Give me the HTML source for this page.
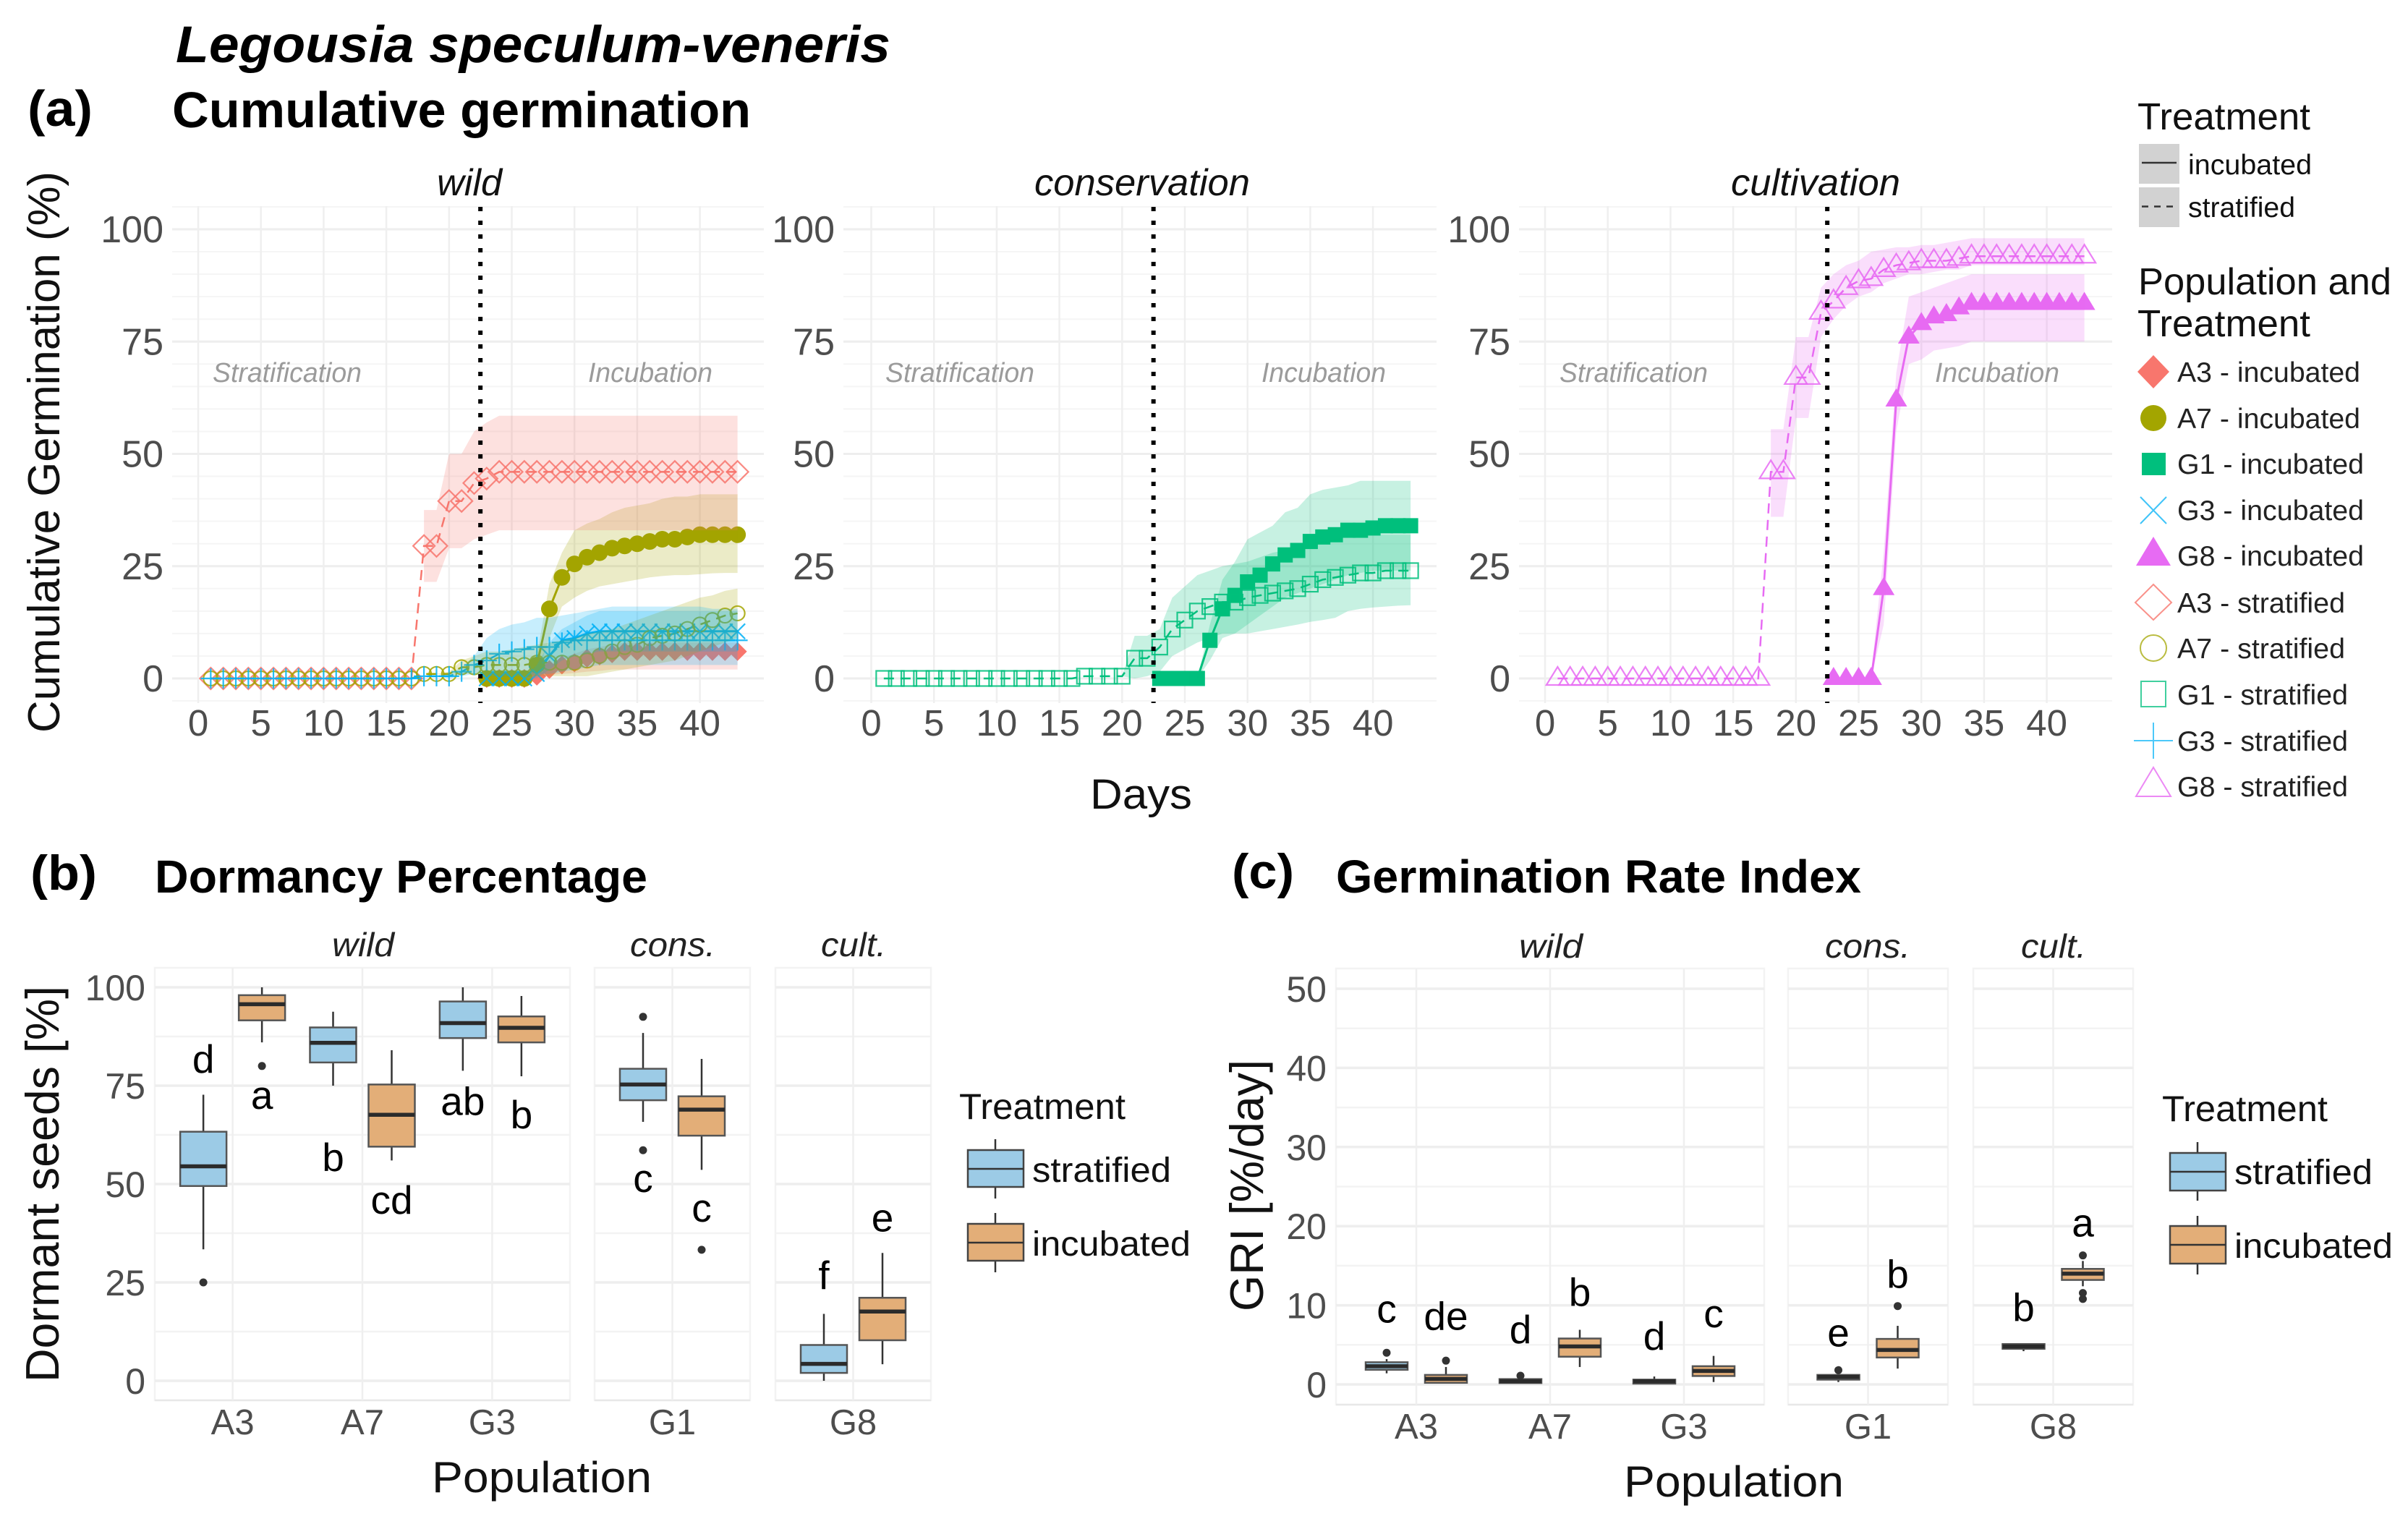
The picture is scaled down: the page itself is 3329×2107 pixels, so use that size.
<!DOCTYPE html>
<html lang="en">
<head>
<meta charset="utf-8">
<title>Legousia speculum-veneris germination</title>
<style>
html,body{margin:0;padding:0;background:#fff;}
svg{display:block;}
text{font-family:"Liberation Sans",Arial,sans-serif;}
</style>
</head>
<body>
<svg id="fig" xmlns="http://www.w3.org/2000/svg" width="3329" height="2107" viewBox="0 0 3329 2107">
<rect x="0" y="0" width="3329" height="2107" fill="#fff"/>

<g id="grids"></g>
<g id="plots"></g>

<!-- Titles -->
<text x="243" y="86" font-size="71" font-weight="bold" font-style="italic" textLength="988" lengthAdjust="spacingAndGlyphs">Legousia speculum-veneris</text>
<text x="38" y="174" font-size="70" font-weight="bold" textLength="90" lengthAdjust="spacingAndGlyphs">(a)</text>
<text x="238" y="176" font-size="70" font-weight="bold" textLength="800" lengthAdjust="spacingAndGlyphs">Cumulative germination</text>
<text x="42" y="1230" font-size="68" font-weight="bold" textLength="92" lengthAdjust="spacingAndGlyphs">(b)</text>
<text x="214" y="1234" font-size="64" font-weight="bold" textLength="681" lengthAdjust="spacingAndGlyphs">Dormancy Percentage</text>
<text x="1703" y="1228" font-size="68" font-weight="bold" textLength="86" lengthAdjust="spacingAndGlyphs">(c)</text>
<text x="1847" y="1234" font-size="64" font-weight="bold" textLength="726" lengthAdjust="spacingAndGlyphs">Germination Rate Index</text>

<!-- Panel a text -->
<text transform="translate(82,1013) rotate(-90)" font-size="62" fill="#111" textLength="776" lengthAdjust="spacingAndGlyphs">Cumulative Germination (%)</text>
<text x="1507" y="1118" font-size="58" fill="#111" textLength="141" lengthAdjust="spacingAndGlyphs">Days</text>
<text x="604" y="270" font-size="52" font-style="italic" fill="#111" textLength="90" lengthAdjust="spacingAndGlyphs">wild</text>
<text x="1430" y="270" font-size="52" font-style="italic" fill="#111" textLength="298" lengthAdjust="spacingAndGlyphs">conservation</text>
<text x="2393" y="270" font-size="52" font-style="italic" fill="#111" textLength="234" lengthAdjust="spacingAndGlyphs">cultivation</text>
<g font-size="38" font-style="italic" fill="#9b9b9b">
<text x="294" y="528" textLength="206" lengthAdjust="spacingAndGlyphs">Stratification</text>
<text x="813" y="528" textLength="172" lengthAdjust="spacingAndGlyphs">Incubation</text>
<text x="1224" y="528" textLength="206" lengthAdjust="spacingAndGlyphs">Stratification</text>
<text x="1744" y="528" textLength="172" lengthAdjust="spacingAndGlyphs">Incubation</text>
<text x="2156" y="528" textLength="205" lengthAdjust="spacingAndGlyphs">Stratification</text>
<text x="2675" y="528" textLength="172" lengthAdjust="spacingAndGlyphs">Incubation</text>
</g>

<!-- Panel a legends -->
<g>
<text x="2955" y="179" font-size="52" fill="#111" textLength="239" lengthAdjust="spacingAndGlyphs">Treatment</text>
<rect x="2957" y="199" width="56" height="55" fill="#d2d2d2"/>
<rect x="2957" y="259" width="56" height="55" fill="#d2d2d2"/>
<line x1="2961" y1="225" x2="3009" y2="225" stroke="#333" stroke-width="2.5"/>
<line x1="2961" y1="285.5" x2="3009" y2="285.5" stroke="#333" stroke-width="2.5" stroke-dasharray="9 8"/>
<text x="3025" y="241" font-size="39" fill="#111" textLength="171" lengthAdjust="spacingAndGlyphs">incubated</text>
<text x="3025" y="300" font-size="39" fill="#111" textLength="148" lengthAdjust="spacingAndGlyphs">stratified</text>
</g>
<g>
<text x="2956" y="407" font-size="52" fill="#111" textLength="350" lengthAdjust="spacingAndGlyphs">Population and</text>
<text x="2955" y="465" font-size="52" fill="#111" textLength="239" lengthAdjust="spacingAndGlyphs">Treatment</text>

<polygon points="2977,491 2999,514 2977,537 2955,514" fill="#F8766D"/>
<text x="3010" y="528" font-size="39" fill="#222" textLength="253" lengthAdjust="spacingAndGlyphs">A3 - incubated</text>
<ellipse cx="2977" cy="578" rx="18" ry="18" fill="#A3A500"/>
<text x="3010" y="592" font-size="39" fill="#222" textLength="253" lengthAdjust="spacingAndGlyphs">A7 - incubated</text>
<rect x="2961" y="626" width="33" height="31" fill="#00BF7D"/>
<text x="3010" y="655" font-size="39" fill="#222" textLength="258" lengthAdjust="spacingAndGlyphs">G1 - incubated</text>
<path d="M2959,687 L2995,724 M2995,687 L2959,724" stroke="#00B0F6" stroke-width="2" fill="none" opacity=".75"/>
<text x="3010" y="719" font-size="39" fill="#222" textLength="258" lengthAdjust="spacingAndGlyphs">G3 - incubated</text>
<polygon points="2977,742 3001,782 2953,782" fill="#E76BF3"/>
<text x="3010" y="782" font-size="39" fill="#222" textLength="258" lengthAdjust="spacingAndGlyphs">G8 - incubated</text>

<polygon points="2977,808 3002,833 2977,857 2952,833" fill="none" stroke="#F8766D" stroke-width="2" opacity=".8"/>
<text x="3010" y="847" font-size="39" fill="#222" textLength="232" lengthAdjust="spacingAndGlyphs">A3 - stratified</text>
<ellipse cx="2977" cy="896" rx="18" ry="18" fill="none" stroke="#A3A500" stroke-width="2" opacity=".75"/>
<text x="3010" y="910" font-size="39" fill="#222" textLength="232" lengthAdjust="spacingAndGlyphs">A7 - stratified</text>
<rect x="2960" y="942" width="34" height="35" fill="none" stroke="#00BF7D" stroke-width="2" opacity=".75"/>
<text x="3010" y="974" font-size="39" fill="#222" textLength="236" lengthAdjust="spacingAndGlyphs">G1 - stratified</text>
<path d="M2950,1024 L3004,1024 M2977,999 L2977,1049" stroke="#00B0F6" stroke-width="2" fill="none" opacity=".7"/>
<text x="3010" y="1038" font-size="39" fill="#222" textLength="236" lengthAdjust="spacingAndGlyphs">G3 - stratified</text>
<polygon points="2977,1061 3001,1101 2953,1101" fill="none" stroke="#E76BF3" stroke-width="2" opacity=".8"/>
<text x="3010" y="1101" font-size="39" fill="#222" textLength="236" lengthAdjust="spacingAndGlyphs">G8 - stratified</text>
</g>

<!-- Panel b static text -->
<text transform="translate(81,1911) rotate(-90)" font-size="65" fill="#111" textLength="548" lengthAdjust="spacingAndGlyphs">Dormant seeds [%]</text>
<text x="597" y="2063" font-size="60" fill="#111" textLength="304" lengthAdjust="spacingAndGlyphs">Population</text>
<text x="459" y="1322" font-size="46" font-style="italic" fill="#222" textLength="86" lengthAdjust="spacingAndGlyphs">wild</text>
<text x="871" y="1322" font-size="46" font-style="italic" fill="#222" textLength="118" lengthAdjust="spacingAndGlyphs">cons.</text>
<text x="1135" y="1322" font-size="46" font-style="italic" fill="#222" textLength="90" lengthAdjust="spacingAndGlyphs">cult.</text>
<g>
<text x="1326" y="1547" font-size="50" fill="#111" textLength="230" lengthAdjust="spacingAndGlyphs">Treatment</text>
<line x1="1376" y1="1575" x2="1376" y2="1657" stroke="#333" stroke-width="2.5"/>
<rect x="1338" y="1590" width="77" height="51" fill="#9CCBE6" stroke="#444" stroke-width="2.5"/>
<line x1="1338" y1="1616" x2="1415" y2="1616" stroke="#333" stroke-width="2.5"/>
<line x1="1376" y1="1677" x2="1376" y2="1759" stroke="#333" stroke-width="2.5"/>
<rect x="1338" y="1692" width="77" height="51" fill="#E3AE78" stroke="#444" stroke-width="2.5"/>
<line x1="1338" y1="1718" x2="1415" y2="1718" stroke="#333" stroke-width="2.5"/>
<text x="1427" y="1634" font-size="48" fill="#111" textLength="192" lengthAdjust="spacingAndGlyphs">stratified</text>
<text x="1427" y="1736" font-size="48" fill="#111" textLength="219" lengthAdjust="spacingAndGlyphs">incubated</text>
</g>

<!-- Panel c static text -->
<text transform="translate(1746,1813) rotate(-90)" font-size="65" fill="#111" textLength="348" lengthAdjust="spacingAndGlyphs">GRI [%/day]</text>
<text x="2245" y="2069" font-size="60" fill="#111" textLength="304" lengthAdjust="spacingAndGlyphs">Population</text>
<text x="2100" y="1324" font-size="46" font-style="italic" fill="#222" textLength="88" lengthAdjust="spacingAndGlyphs">wild</text>
<text x="2523" y="1324" font-size="46" font-style="italic" fill="#222" textLength="118" lengthAdjust="spacingAndGlyphs">cons.</text>
<text x="2794" y="1324" font-size="46" font-style="italic" fill="#222" textLength="90" lengthAdjust="spacingAndGlyphs">cult.</text>
<g>
<text x="2989" y="1550" font-size="50" fill="#111" textLength="229" lengthAdjust="spacingAndGlyphs">Treatment</text>
<line x1="3038" y1="1579" x2="3038" y2="1660" stroke="#333" stroke-width="2.5"/>
<rect x="3000" y="1594" width="77" height="52" fill="#9CCBE6" stroke="#444" stroke-width="2.5"/>
<line x1="3000" y1="1620" x2="3077" y2="1620" stroke="#333" stroke-width="2.5"/>
<line x1="3038" y1="1681" x2="3038" y2="1762" stroke="#333" stroke-width="2.5"/>
<rect x="3000" y="1695" width="77" height="52" fill="#E3AE78" stroke="#444" stroke-width="2.5"/>
<line x1="3000" y1="1721" x2="3077" y2="1721" stroke="#333" stroke-width="2.5"/>
<text x="3089" y="1637" font-size="48" fill="#111" textLength="191" lengthAdjust="spacingAndGlyphs">stratified</text>
<text x="3089" y="1739" font-size="48" fill="#111" textLength="219" lengthAdjust="spacingAndGlyphs">incubated</text>
</g>
</svg>

<script>
// ---------- Panel (a) data: cumulative germination ----------
const daysAll = [1,2,3,4,5,6,7,8,9,10,11,12,13,14,15,16,17,18,19,20,21,22,23,24,25,26,27,28,29,30,31,32,33,34,35,36,37,38,39,40,41,42,43];
const daysIncubation = [23,24,25,26,27,28,29,30,31,32,33,34,35,36,37,38,39,40,41,42,43];
const daysBandStratified = [18,19,20,21,22,23,24,25,26,27,28,29,30,31,32,33,34,35,36,37,38,39,40,41,42,43];
const daysBandIncubated = [26,27,28,29,30,31,32,33,34,35,36,37,38,39,40,41,42,43];
const dayTicks = [0,5,10,15,20,25,30,35,40];
const percentTicks = [0,25,50,75,100];
const percentMinorGrid = [-5,5,10,15,20,30,35,40,45,55,60,65,70,80,85,90,95,105];

const a3StratMean = [0,0,0,0,0,0,0,0,0,0,0,0,0,0,0,0,0,29.5,29.5,39.5,39.5,43.5,44.5,46,46,46,46,46,46,46,46,46,46,46,46,46,46,46,46,46,46,46,46];
const a3StratUpper = [37.5,37.5,50,50,55,57,58.5,58.5,58.5,58.5,58.5,58.5,58.5,58.5,58.5,58.5,58.5,58.5,58.5,58.5,58.5,58.5,58.5,58.5,58.5,58.5];
const a3StratLower = [21.5,21.5,29,29,31,32,33,33,33,33,33,33,33,33,33,33,33,33,33,33,33,33,33,33,33,33];

const a7StratMean = [0,0,0,0,0,0,0,0,0,0,0,0,0,0,0,0,0,1,1,1,2.5,2.5,3,3,3,3,3.5,3.5,3.5,3.5,4,5,6,7,7.5,9,9.5,10,11,12,13,14,14.5];
const a7StratUpper = [1,1,1.5,4,5,6,6,6.5,7,7.5,8,8.5,9,10,10.5,11,12,13,14,15,16,17,18,18.5,19.5,20];
const a7StratLower = [1,1,0.5,1,1,1,0.5,0.5,0.5,0.5,0.5,0.5,0.5,0.5,1,1.5,2,2.5,3,3.5,4,5,6,7,8,9];

const g3StratMean = [0,0,0,0,0,0,0,0,0,0,0,0,0,0,0,0,0,0.5,0.5,0.5,1.5,3,4,5.5,6,6.5,7,7,8,8.5,8.5,8.5,8.5,8.5,8.5,8.5,8.5,8.5,8.5,8.5,8.5,8.5,8.5];
const g3StratUpper = [0.5,0.5,1,2.5,5,9,11,12,12.5,13.5,13.5,14,14.5,15,15.5,16,16,16,16,16,16,16,16,15.5,15.5,15.5];
const g3StratLower = [0.5,0.5,0,0.5,1,0.5,0.5,0.5,0.5,1,1,1.5,2,2.5,3,3,3,3,3,3,3,3,3,3,3,3];

const a3IncMean = [0,0,0,0,0.5,2,3,3.5,4.5,5,5.5,6,6,6,6,6,6,6,6,6,6];
const a3IncUpper = [0,1,3,4.5,5.5,6.5,7,7.5,8,8,8,8,8,8,8,8,8,8];
const a3IncLower = [0,0,0.8,1,1.2,1.5,1.7,2,2,2,2,2,2,2,2,2,2,2];

const a7IncMean = [0,0,0,0,3,15.5,22.5,25.5,27,28,29,29.5,30,30.5,31,31,31.5,32,32,32,32];
const a7IncUpper = [0,5,21,28,33,34.5,35.5,37,38,38.5,39,40,40.5,40.5,41,41,41,41];
const a7IncLower = [0,0.5,9,16,18,19.5,20.5,21,21.5,22,22.5,22.8,23,23,23.2,23.4,23.5,23.5];

const g3IncMean = [0,0,0,0,1,5,8.5,9,10,10.5,10.5,10.5,10.5,10.5,10.5,10.5,10.5,10.5,10.5,10.5,10.5];
const g3IncUpper = [0,3,8,11,12.5,14,15,15,15,15,15,15,15,15,15,15,15,15];
const g3IncLower = [0,0,2,4,5,5.5,6,6,6,6,6,6,6,6,6,6,6,6];

const g1StratMean = [0,0,0,0,0,0,0,0,0,0,0,0,0,0,0,0,0.5,0.5,0.5,0.5,4.5,4.5,7,11,13,15,16,17,17,18,18.5,19,19.5,20,21,22,22.5,23,23.5,23.5,24,24,24];
const g1StratUpper = [0.5,0.5,0.5,9.5,9.5,11,18,20.5,23,24,25,25.5,26,27,28,28.5,29,30,30.5,31,31.5,32,32,32,32,32];
const g1StratLower = [0.5,0.5,0.5,0,0.5,1.5,5,6.5,8,9,10,10,10,10.5,11,11.5,12,12.6,13,13.5,15,15.5,15.8,16,16.2,16.3];

const g1IncMean = [0,0,0,0,8.5,15.5,18.5,21.5,23,25.5,27.5,28.5,30.5,31.5,32,33,33,33.5,34,34,34];
const g1IncUpper = [0,12,22,26,31,32.5,34,37,38,41,42,42.5,43,44,44,44,44,44];
const g1IncLower = [0,4,9,10,12,14,16,18,19,20,21,22,23,23.5,24,24,24,24];

const g8StratMean = [0,0,0,0,0,0,0,0,0,0,0,0,0,0,0,0,0,46,46,67,67,81.5,84,87,88.5,89,91,92,92.5,93,93,93,93.5,94,94,94,94,94,94,94,94,94,94];
const g8StratUpper = [55.5,55.5,76,76,87,90,92,93,95,95.5,96,96,96.5,96.5,97,97.5,98,98,98,98,98,98,98,98,98,98];
const g8StratLower = [36,36,58,58,76,80,83,85,86,88,89,90,90,90.5,91,91,92,92,92,92,92,92,92,92,92,92];

const g8IncMean = [0,0,0,0,20,62,76,79,80.5,81,82.5,83.5,83.5,83.5,83.5,83.5,83.5,83.5,83.5,83.5,83.5];
const g8IncUpper = [1,28,68,85,86,87,88,89,90,90,90,90,90,90,90,90,90,90];
const g8IncLower = [0,12,55,70,71,73,73.5,74,75,75,75,75,75,75,75,75,75,75];

// ---------- Panel (b) data: dormancy percentage, order A3 A7 G3 G1 G8 ----------
const populations = ['A3','A7','G3','G1','G8'];
const dormancyTicks = [0,25,50,75,100];
const dormancyMinorGrid = [12.5,37.5,62.5,87.5];

const dormStratLow = [33.4,75,78.8,65.8,0];
const dormStratQ1 = [49.5,80.9,87.1,71.3,2];
const dormStratMedian = [54.5,85.9,90.9,75.3,4.3];
const dormStratQ3 = [63.3,89.8,96.4,79.3,9.1];
const dormStratHigh = [72.7,93.8,100,88.4,17];
const dormStratOutliers = [[25],[],[],[92.5,58.6],[]];
const dormStratLetters = ['d','b','ab','c','f'];
const dormStratLetterLevel = [78.3,53.3,67.6,48,23.3];

const dormIncLow = [86,56,77.4,53.6,4.2];
const dormIncQ1 = [91.6,59.5,86,62.3,10.3];
const dormIncMedian = [95.7,67.6,89.7,68.9,17.6];
const dormIncQ3 = [98,75.3,92.6,72.3,21.1];
const dormIncHigh = [100,84,97.8,81.8,32.5];
const dormIncOutliers = [[80],[],[],[33.3],[]];
const dormIncLetters = ['a','cd','b','c','e'];
const dormIncLetterLevel = [69.1,42.5,64.2,40.4,38];

// ---------- Panel (c) data: germination rate index, order A3 A7 G3 G1 G8 ----------
const griTicks = [0,10,20,30,40,50];
const griMinorGrid = [5,15,25,35,45];

const griStratLow = [1.4,0.1,0.05,0.3,4.2];
const griStratQ1 = [1.85,0.17,0.1,0.6,4.5];
const griStratMedian = [2.3,0.4,0.4,0.95,4.8];
const griStratQ3 = [2.8,0.67,0.6,1.2,5.1];
const griStratHigh = [3.2,1,1,1.5,5.2];
const griStratOutliers = [[4],[1.1],[],[1.8],[]];
const griStratLetters = ['c','d','d','e','b'];
const griStratLetterLevel = [7.8,5.2,4.4,4.8,8];

const griIncLow = [0.1,2.2,0.3,2,12.4];
const griIncQ1 = [0.2,3.5,1.06,3.4,13.2];
const griIncMedian = [0.7,4.8,1.7,4.35,14];
const griIncQ3 = [1.2,5.8,2.3,5.75,14.6];
const griIncHigh = [2.2,6.9,3.6,7.4,15.6];
const griIncOutliers = [[3],[],[],[9.9],[16.3,11.55,10.8]];
const griIncLetters = ['de','b','c','b','a'];
const griIncLetterLevel = [6.9,9.9,7.2,12.2,18.7];

// ---------- Helpers ----------
const NS = 'http://www.w3.org/2000/svg';
const gridLayer = document.getElementById('grids');
const plotLayer = document.getElementById('plots');
function mk(tag, attrs, parent) {
  const e = document.createElementNS(NS, tag);
  for (const k in attrs) e.setAttribute(k, attrs[k]);
  parent.appendChild(e);
  return e;
}

// ---------- Axis functions ----------
function yCum(v) { return 938 - v * 6.21; }
function xDay(origin, d) { return origin + d * 17.34; }
function yDorm(v) { return 1909 - v * 5.44; }
function yGri(v) { return 1914 - v * 10.94; }
function xCat(facet, i) {
  const step = (facet.right - facet.left) / (facet.cats.length - 1 + 1.2);
  return facet.left + (0.6 + i) * step;
}

// ---------- Marker drawing ----------
function drawMarker(parent, shape, x, y) {
  let m;
  if (shape === 'diamondSolid') {
    m = mk('polygon', {points: `${x},${y-13} ${x+13},${y} ${x},${y+13} ${x-13},${y}`}, parent);
  } else if (shape === 'diamondOpen') {
    m = mk('polygon', {points: `${x},${y-15} ${x+15},${y} ${x},${y+15} ${x-15},${y}`, fill: 'none', 'stroke-width': 2.2}, parent);
  } else if (shape === 'circleSolid') {
    m = mk('circle', {cx: x, cy: y, r: 11.5}, parent);
  } else if (shape === 'circleOpen') {
    m = mk('circle', {cx: x, cy: y, r: 10, fill: 'none', 'stroke-width': 2.2}, parent);
  } else if (shape === 'squareSolid') {
    m = mk('rect', {x: x-10.5, y: y-10.5, width: 21, height: 21}, parent);
  } else if (shape === 'squareOpen') {
    m = mk('rect', {x: x-10.5, y: y-10.5, width: 21, height: 21, fill: 'none', 'stroke-width': 2.2}, parent);
  } else if (shape === 'cross') {
    m = mk('path', {d: `M${x-10.5},${y-10.5}L${x+10.5},${y+10.5}M${x+10.5},${y-10.5}L${x-10.5},${y+10.5}`, fill: 'none', 'stroke-width': 2.2}, parent);
  } else if (shape === 'plus') {
    m = mk('path', {d: `M${x-14},${y}L${x+14},${y}M${x},${y-14}L${x},${y+14}`, fill: 'none', 'stroke-width': 2.2}, parent);
  } else if (shape === 'triangleSolid') {
    m = mk('polygon', {points: `${x},${y-16} ${x+15},${y+9} ${x-15},${y+9}`}, parent);
  } else {
    m = mk('polygon', {points: `${x},${y-16} ${x+15.5},${y+9} ${x-15.5},${y+9}`, fill: 'none', 'stroke-width': 2.2}, parent);
  }
  
  
  return m;
}

// ---------- Panel (a) drawing ----------
function drawCumulativeFacet(name, origin, left, right, series) {
  // grid
  percentMinorGrid.forEach(function (v) {
    const l = mk('line', {x1: left, x2: right, y1: yCum(v), y2: yCum(v), stroke: '#f5f5f5', 'stroke-width': 2}, gridLayer);
    
    
  });
  percentTicks.forEach(function (v) {
    const l = mk('line', {x1: left, x2: right, y1: yCum(v), y2: yCum(v), stroke: '#eeeeee', 'stroke-width': 3}, gridLayer);
    
    
    const t = mk('text', {x: left - 12, y: yCum(v) + 18, 'text-anchor': 'end', 'font-size': 52, fill: '#4d4d4d'}, plotLayer);
    t.textContent = String(v);
    
    
  });
  dayTicks.forEach(function (d) {
    const l = mk('line', {x1: xDay(origin, d), x2: xDay(origin, d), y1: 285, y2: 972, stroke: '#efefef', 'stroke-width': 2.5}, gridLayer);
    
    
    const t = mk('text', {x: xDay(origin, d), y: 1017, 'text-anchor': 'middle', 'font-size': 51, fill: '#4d4d4d'}, plotLayer);
    t.textContent = String(d);
    
    
  });

  const g = mk('g', {}, plotLayer);
  
  

  // lines and markers sit under the translucent ribbons, as in the reference
  series.forEach(function (s) {
    const pts = s.days.map(function (d, i) { return xDay(origin, d) + ',' + yCum(s.mean[i]); }).join(' ');
    const attrs = {points: pts, fill: 'none', stroke: s.color, 'stroke-width': s.dashed ? 2.5 : 3};
    if (s.dashed) attrs['stroke-dasharray'] = '14 9';
    const line = mk('polyline', attrs, g);
    
    
  });
  series.forEach(function (s) {
    const mg = mk('g', s.solid ? {fill: s.color} : {stroke: s.color, 'stroke-opacity': 0.85}, g);
    
    
    s.days.forEach(function (d, i) {
      drawMarker(mg, s.shape, xDay(origin, d), yCum(s.mean[i]));
    });
  });
  // ribbons
  series.forEach(function (s) {
    const upper = s.bandDays.map(function (d, i) { return xDay(origin, d) + ',' + yCum(s.upper[i]); });
    const lower = s.bandDays.map(function (d, i) { return xDay(origin, d) + ',' + yCum(s.lower[i]); }).reverse();
    const r = mk('polygon', {points: upper.concat(lower).join(' '), fill: s.color, opacity: 0.22}, g);
    
    
  });
  // dotted phase divider
  const divider = mk('line', {x1: xDay(origin, 22.5), x2: xDay(origin, 22.5), y1: 286, y2: 972, stroke: '#000', 'stroke-width': 6, 'stroke-dasharray': '6 13'}, g);
  
  
}

drawCumulativeFacet('wild', 274, 238, 1056, [
  {id:'a3-incubated', color:'#F8766D', shape:'diamondSolid', solid:true, dashed:false, days:daysIncubation, mean:a3IncMean, bandDays:daysBandIncubated, upper:a3IncUpper, lower:a3IncLower},
  {id:'a7-incubated', color:'#A3A500', shape:'circleSolid', solid:true, dashed:false, days:daysIncubation, mean:a7IncMean, bandDays:daysBandIncubated, upper:a7IncUpper, lower:a7IncLower},
  {id:'g3-incubated', color:'#00B0F6', shape:'cross', solid:false, dashed:false, days:daysIncubation, mean:g3IncMean, bandDays:daysBandIncubated, upper:g3IncUpper, lower:g3IncLower},
  {id:'a3-stratified', color:'#F8766D', shape:'diamondOpen', solid:false, dashed:true, days:daysAll, mean:a3StratMean, bandDays:daysBandStratified, upper:a3StratUpper, lower:a3StratLower},
  {id:'a7-stratified', color:'#A3A500', shape:'circleOpen', solid:false, dashed:true, days:daysAll, mean:a7StratMean, bandDays:daysBandStratified, upper:a7StratUpper, lower:a7StratLower},
  {id:'g3-stratified', color:'#00B0F6', shape:'plus', solid:false, dashed:true, days:daysAll, mean:g3StratMean, bandDays:daysBandStratified, upper:g3StratUpper, lower:g3StratLower}
]);
drawCumulativeFacet('conservation', 1204.5, 1166, 1986, [
  {id:'g1-incubated', color:'#00BF7D', shape:'squareSolid', solid:true, dashed:false, days:daysIncubation, mean:g1IncMean, bandDays:daysBandIncubated, upper:g1IncUpper, lower:g1IncLower},
  {id:'g1-stratified', color:'#00BF7D', shape:'squareOpen', solid:false, dashed:true, days:daysAll, mean:g1StratMean, bandDays:daysBandStratified, upper:g1StratUpper, lower:g1StratLower}
]);
drawCumulativeFacet('cultivation', 2136, 2100, 2920, [
  {id:'g8-incubated', color:'#E76BF3', shape:'triangleSolid', solid:true, dashed:false, days:daysIncubation, mean:g8IncMean, bandDays:daysBandIncubated, upper:g8IncUpper, lower:g8IncLower},
  {id:'g8-stratified', color:'#E76BF3', shape:'triangleOpen', solid:false, dashed:true, days:daysAll, mean:g8StratMean, bandDays:daysBandStratified, upper:g8StratUpper, lower:g8StratLower}
]);

// ---------- Boxplot drawing ----------
function drawBoxPanel(cfg) {
  const g = mk('g', {}, plotLayer);
  
  

  cfg.facets.forEach(function (f) {
    const frame = mk('rect', {x: f.left, y: cfg.top, width: f.right - f.left, height: cfg.bottom - cfg.top, fill: 'none', stroke: '#f3f3f3', 'stroke-width': 2.5}, gridLayer);
    
    
    const base = mk('line', {x1: f.left, x2: f.right, y1: cfg.bottom, y2: cfg.bottom, stroke: '#e8e8e8', 'stroke-width': 2.5}, gridLayer);
    
    
    cfg.minor.forEach(function (v) {
      const l = mk('line', {x1: f.left, x2: f.right, y1: cfg.y(v), y2: cfg.y(v), stroke: '#f3f3f3', 'stroke-width': 2.5}, gridLayer);
      
      
    });
    cfg.ticks.forEach(function (v) {
      const l = mk('line', {x1: f.left, x2: f.right, y1: cfg.y(v), y2: cfg.y(v), stroke: '#eeeeee', 'stroke-width': 3.5}, gridLayer);
      
      
    });
    f.cats.forEach(function (c, i) {
      const x = xCat(f, i);
      const l = mk('line', {x1: x, x2: x, y1: cfg.top, y2: cfg.bottom, stroke: '#efefef', 'stroke-width': 2.5}, gridLayer);
      
      
      const t = mk('text', {x: x, y: cfg.xTickY, 'text-anchor': 'middle', 'font-size': 49, fill: '#4d4d4d'}, plotLayer);
      t.textContent = c;
      
      

      const idx = populations.indexOf(c);
      [cfg.stratified, cfg.incubated].forEach(function (s, si) {
        const cx = x + (si === 0 ? -cfg.dodge : cfg.dodge);
        const half = cfg.boxWidth / 2;
        const w = mk('line', {x1: cx, x2: cx, y1: cfg.y(s.high[idx]), y2: cfg.y(s.low[idx]), stroke: '#333', 'stroke-width': 2.5}, g);
        
        
        const b = mk('rect', {x: cx - half, y: cfg.y(s.q3[idx]), width: cfg.boxWidth, height: cfg.y(s.q1[idx]) - cfg.y(s.q3[idx]), fill: s.fill, stroke: '#555', 'stroke-width': 2.5}, g);
        
        
        const m = mk('line', {x1: cx - half, x2: cx + half, y1: cfg.y(s.median[idx]), y2: cfg.y(s.median[idx]), stroke: '#2b2b2b', 'stroke-width': 5.5}, g);
        
        
        s.outliers[idx].forEach(function (o) {
          const p = mk('circle', {cx: cx, cy: cfg.y(o), r: 5.5, fill: '#333'}, g);
          
          
        });
        const lab = mk('text', {x: cx, y: cfg.y(s.letterLevel[idx]), 'text-anchor': 'middle', 'font-size': 55, fill: '#000'}, g);
        lab.textContent = s.letters[idx];
        
        
      });
    });
  });
  cfg.ticks.forEach(function (v) {
    const t = mk('text', {x: cfg.yTickX, y: cfg.y(v) + 18, 'text-anchor': 'end', 'font-size': 50, fill: '#4d4d4d'}, plotLayer);
    t.textContent = String(v);
    
    
  });
}

const BLUE = '#9CCBE6';
const ORANGE = '#E3AE78';
drawBoxPanel({
  id: 'dormancy', y: yDorm, ticks: dormancyTicks, minor: dormancyMinorGrid,
  top: 1338, bottom: 1936, xTickY: 1983, yTickX: 201, boxWidth: 64, dodge: 40.5,
  facets: [
    {left: 214, right: 788, cats: populations.slice(0, 3)},
    {left: 822, right: 1037, cats: populations.slice(3, 4)},
    {left: 1072, right: 1287, cats: populations.slice(4, 5)}
  ],
  stratified: {name:'stratified', fill:BLUE, low:dormStratLow, q1:dormStratQ1, median:dormStratMedian, q3:dormStratQ3, high:dormStratHigh, outliers:dormStratOutliers, letters:dormStratLetters, letterLevel:dormStratLetterLevel},
  incubated: {name:'incubated', fill:ORANGE, low:dormIncLow, q1:dormIncQ1, median:dormIncMedian, q3:dormIncQ3, high:dormIncHigh, outliers:dormIncOutliers, letters:dormIncLetters, letterLevel:dormIncLetterLevel}
});
drawBoxPanel({
  id: 'gri', y: yGri, ticks: griTicks, minor: griMinorGrid,
  top: 1339, bottom: 1942, xTickY: 1989, yTickX: 1834, boxWidth: 58, dodge: 41,
  facets: [
    {left: 1847, right: 2439, cats: populations.slice(0, 3)},
    {left: 2472, right: 2693, cats: populations.slice(3, 4)},
    {left: 2728, right: 2949, cats: populations.slice(4, 5)}
  ],
  stratified: {name:'stratified', fill:BLUE, low:griStratLow, q1:griStratQ1, median:griStratMedian, q3:griStratQ3, high:griStratHigh, outliers:griStratOutliers, letters:griStratLetters, letterLevel:griStratLetterLevel},
  incubated: {name:'incubated', fill:ORANGE, low:griIncLow, q1:griIncQ1, median:griIncMedian, q3:griIncQ3, high:griIncHigh, outliers:griIncOutliers, letters:griIncLetters, letterLevel:griIncLetterLevel}
});
</script>
</body>
</html>
